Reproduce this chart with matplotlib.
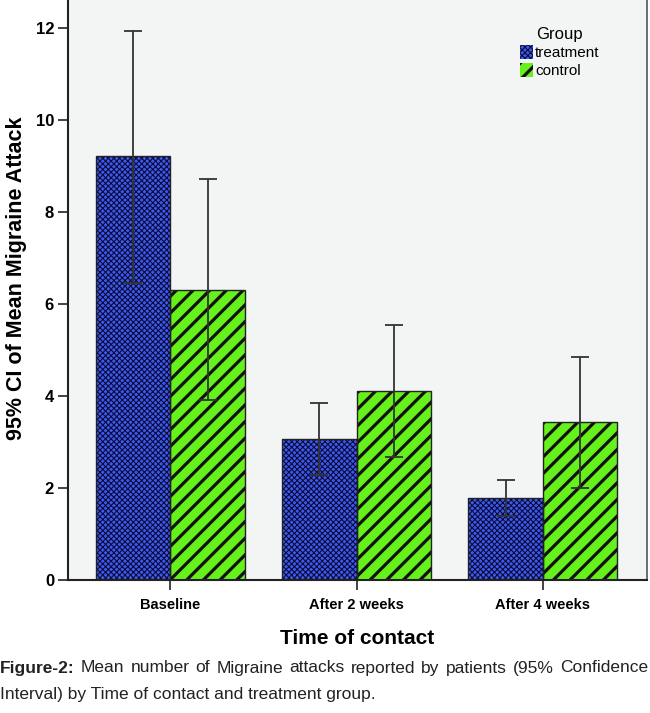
import matplotlib
matplotlib.use("Agg")
import matplotlib.pyplot as plt
import numpy as np

# --- Datos ---
time_points = ["Baseline", "After 2 weeks", "After 4 weeks"]
groups = ["treatment", "control"]
treatment_mean = [9.22, 3.07, 1.78]
treatment_lo = [6.45, 2.28, 1.38]
treatment_hi = [11.93, 3.85, 2.17]
control_mean = [6.30, 4.11, 3.43]
control_lo = [3.90, 2.67, 2.00]
control_hi = [8.72, 5.54, 4.85]

caption_bold = "Figure-2:"
caption_line1 = "Mean number of Migraine attacks reported by patients (95% Confidence"
caption_line2 = "Interval) by Time of contact and treatment group."

plt.rcParams["font.family"] = ["Liberation Sans", "DejaVu Sans"]

fig = plt.figure(figsize=(6.5, 7.13), dpi=100)
ax = fig.add_axes([68 / 650, 133 / 713, 579 / 650, 580 / 713])
ax.set_facecolor("#f3f5f5")

x = np.arange(len(time_points))
width = 0.4

styles = [
    # (media, lo, hi, desplazamiento, fondo, color de trama, trama, grosor trama)
    (treatment_mean, treatment_lo, treatment_hi, -width / 2, "#3d5af0", "#0c0c38", "xxxxxx", 0.8),
    (control_mean, control_lo, control_hi, width / 2, "#66f01c", "#111111", "//", 2.3),
]

handles = []
for (mean, lo, hi, off, fc, hc, hatch, hlw), label in zip(styles, groups):
    plt.rcParams["hatch.linewidth"] = hlw
    bars = ax.bar(x + off, mean, width, color=fc, edgecolor=hc, hatch=hatch,
                  linewidth=0, label=label, zorder=2)
    for b in bars:
        if hasattr(b, "set_hatch_linewidth"):
            b.set_hatch_linewidth(hlw)
    ax.bar(x + off, mean, width, fill=False, edgecolor="#222222", linewidth=1.0, zorder=3)
    handles.append(bars)
    mean = np.array(mean)
    yerr = [mean - np.array(lo), np.array(hi) - mean]
    ax.errorbar(x + off, mean, yerr=yerr, fmt="none", ecolor="#333333",
                elinewidth=1.3, capsize=6.5, capthick=1.3, zorder=4)

ax.set_xlim(-0.55, 2.56)
ax.set_ylim(0, 12.6)
ax.set_yticks([0, 2, 4, 6, 8, 10, 12])
ax.set_xticks(x)
ax.set_xticklabels(time_points, fontsize=10.5, fontweight="bold")
for t in ax.get_yticklabels():
    t.set_fontsize(12)
    t.set_fontweight("bold")
ax.tick_params(axis="both", length=7, width=1.2, color="#222222", pad=3)
ax.tick_params(axis="x", pad=6)

ax.spines["top"].set_visible(False)
ax.spines["left"].set_linewidth(1.5)
ax.spines["bottom"].set_linewidth(1.5)
ax.spines["left"].set_color("#222222")
ax.spines["bottom"].set_color("#222222")
ax.spines["right"].set_color("#555555")
ax.spines["right"].set_linewidth(1.2)

ax.set_ylabel("95% CI of Mean Migraine Attack", fontsize=15.5, fontweight="bold")
ax.yaxis.set_label_coords(-0.07, 0.52)
ax.set_xlabel("Time of contact", fontsize=15, fontweight="bold", labelpad=12)

leg = ax.legend(handles, groups, title="Group", frameon=False, loc="upper left",
                bbox_to_anchor=(506 / 650, 1 - 13 / 713), bbox_transform=fig.transFigure,
                fontsize=11, title_fontsize=12, handlelength=0.85, handleheight=1.05,
                handletextpad=0.15, labelspacing=0.2)
for p, (_, _, _, _, _, _, _, hlw) in zip(leg.legend_handles, styles):
    if hasattr(p, "set_hatch_linewidth"):
        p.set_hatch_linewidth(hlw)

# --- Pie de figura (primera linea justificada) ---
renderer = fig.canvas.get_renderer()
fs = 12.5
y1 = 1 - 668 / 713
y2 = 1 - 695 / 713
words = [(caption_bold, "bold")] + [(w, "normal") for w in caption_line1.split()]
texts = []
total = 0
for w, fw in words:
    t = fig.text(0, y1, w, fontsize=fs, fontweight=fw, color="#222222", va="center", ha="left")
    total += t.get_window_extent(renderer).width
    texts.append(t)
gap = (648 - total) / (len(texts) - 1)
cursor = 0
for t in texts:
    t.set_x(cursor / 650)
    cursor += t.get_window_extent(renderer).width + gap
fig.text(0, y2, caption_line2, fontsize=fs, color="#222222", va="center", ha="left")

fig.savefig("out.png", dpi=100)
